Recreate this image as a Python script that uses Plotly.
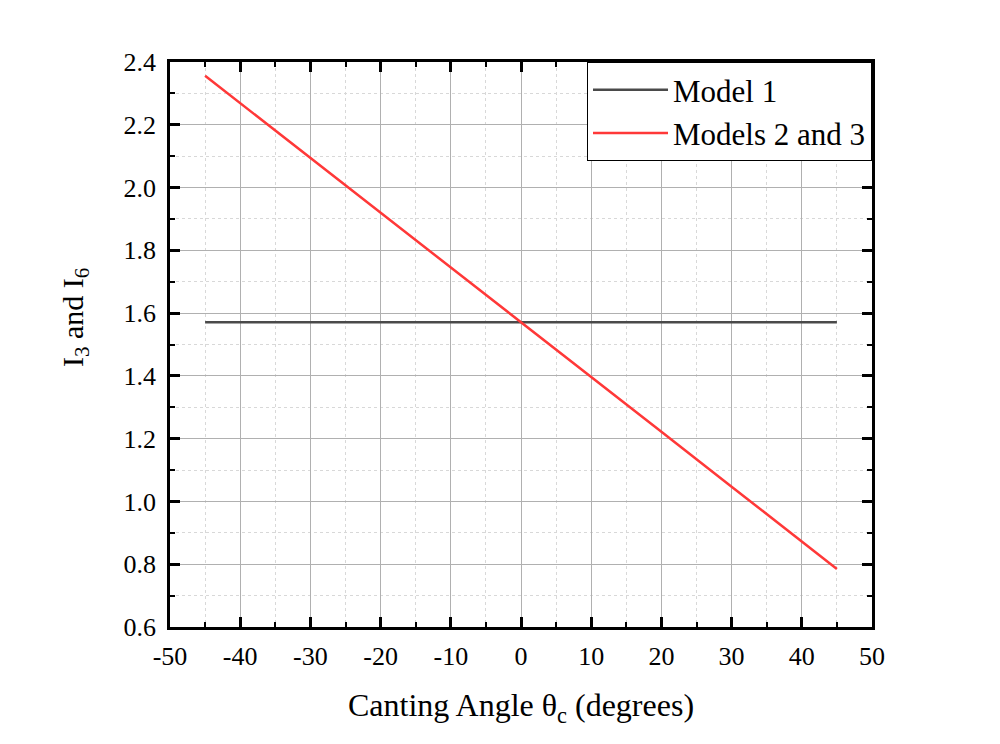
import plotly.graph_objects as go

# Canting angle (degrees) and the two integral curves
angle_deg = [-45, -40, -30, -20, -10, 0, 10, 20, 30, 40, 45]
model1 = [1.571, 1.571, 1.571, 1.571, 1.571, 1.571, 1.571, 1.571, 1.571, 1.571, 1.571]
models23 = [2.356, 2.269, 2.094, 1.920, 1.745, 1.571, 1.396, 1.222, 1.047, 0.873, 0.785]

x_ticks = [-50, -40, -30, -20, -10, 0, 10, 20, 30, 40, 50]
y_ticks = [0.6, 0.8, 1.0, 1.2, 1.4, 1.6, 1.8, 2.0, 2.2, 2.4]

FONT = "Liberation Serif, Times New Roman, serif"

fig = go.Figure()
fig.add_trace(go.Scatter(x=angle_deg, y=model1, mode="lines", name="Model 1",
                         line=dict(color="#4a4a4a", width=2.5)))
fig.add_trace(go.Scatter(x=angle_deg, y=models23, mode="lines", name="Models 2 and 3",
                         line=dict(color="#ff3838", width=2.5)))

axis_common = dict(
    showline=True, linecolor="black", linewidth=2.5, mirror="ticks",
    ticks="inside", ticklen=10, tickwidth=2.5, tickcolor="black",
    showgrid=True, gridcolor="#b0b0b0", gridwidth=1,
    zeroline=False,
    tickfont=dict(family=FONT, size=26, color="black"),
    minor=dict(ticks="inside", ticklen=5, tickwidth=2, tickcolor="black",
               showgrid=True, gridcolor="#d8d8d8", griddash="dot", gridwidth=1),
)

fig.update_xaxes(range=[-50, 50], tickvals=x_ticks, ticktext=[str(v) for v in x_ticks],
                 minor_dtick=5, ticklabelstandoff=4,
                 title=dict(text="Canting Angle θ<sub>c</sub> (degrees)",
                            font=dict(family=FONT, size=32, color="black"), standoff=24),
                 **axis_common)
fig.update_yaxes(range=[0.6, 2.4], tickvals=y_ticks, ticktext=[f"{v:.1f}" for v in y_ticks],
                 minor_dtick=0.1, ticklabelstandoff=6,
                 **axis_common)

# y title sits a little above the plot centre in the reference
fig.add_annotation(text="I<sub>3</sub> and I<sub>6</sub>", textangle=-90,
                   xref="paper", yref="paper", x=0, y=0.547, xshift=-95,
                   xanchor="center", yanchor="middle", showarrow=False,
                   font=dict(family=FONT, size=30, color="black"))

fig.update_layout(
    width=1000, height=744,
    margin=dict(l=162, r=136, t=54, b=125),
    plot_bgcolor="white", paper_bgcolor="white",
    font=dict(family=FONT, color="black"),
    legend=dict(x=1, y=1, xanchor="right", yanchor="top",
                bgcolor="white", bordercolor="black", borderwidth=1,
                font=dict(family=FONT, size=31, color="black"),
                itemwidth=75, tracegroupgap=0),
)

fig.write_html("out.html")
